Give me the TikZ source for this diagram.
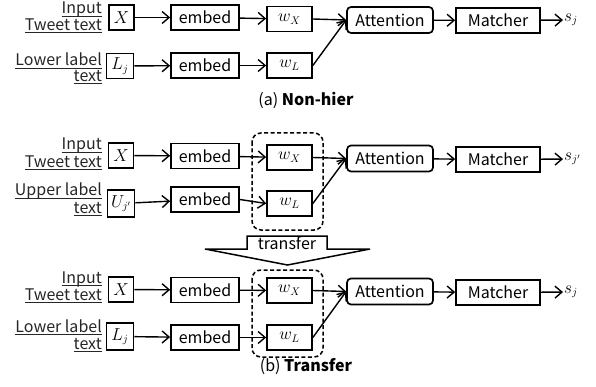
\documentclass[tikz,border=0pt]{standalone}
\usepackage{fontspec}
\setmainfont{Noto Sans CJK JP}
\usetikzlibrary{arrows.meta}
% underline drawn as a rule at a fixed distance below the baseline
\newcommand\ulin[1]{\leavevmode\setbox0\hbox{#1}\rlap{\copy0}\rule[-2.8pt]{\wd0}{0.9pt}}
\tikzset{
  blk/.style={draw, line width=1.7pt, inner sep=0pt, minimum height=25pt},
  var/.style={blk, minimum width=25pt},
  emb/.style={blk, minimum width=68pt},
  wbox/.style={blk, minimum width=45pt},
  att/.style={blk, rounded corners=4pt, minimum width=86pt, minimum height=26pt},
  mat/.style={blk, minimum width=84pt},
  lab/.style={anchor=base east, inner sep=0pt, text=black!85},
  outp/.style={anchor=west, inner sep=1pt},
  flow/.style={line width=1.4pt, -{Straight Barb[length=7pt,width=12pt,line width=1.4pt]}},
  grp/.style={draw, line width=1.5pt, rounded corners=9pt, dash pattern=on 4pt off 2.5pt},
}
\begin{document}
\begin{tikzpicture}[x=1pt, y=-1pt, font=\fontsize{16}{18}\selectfont]
\useasboundingbox (0,0) rectangle (596,387);

% ---------- (a) Non-hier ----------
\node[lab] (la1) at (102,13.8) {\ulin{Input}};
\node[lab] (la1b) at (102,30.5) {\ulin{Tweet text}};
\node[lab] (la2) at (102,66) {\ulin{Lower label}};
\node[lab] (la2b) at (102,81.5) {\ulin{text}};
\node[var] (aX) at (121.5,17.5) {$X$};
\node[emb] (ae1) at (205,17.5) {embed};
\node[wbox] (awX) at (289.5,19) {$w_X$};
\node[att] (aAtt) at (390,20) {Attention};
\node[mat] (aMat) at (498,20.5) {Matcher};
\node[outp] (aS) at (563,20) {$s_j$};
\node[var, minimum width=27pt] (aL) at (120,66) {$L_j$};
\node[emb] (ae2) at (205,65.5) {embed};
\node[wbox] (awL) at (289.5,65.5) {$w_L$};
\draw[flow] (aX) -- (ae1);
\draw[flow] (ae1) -- (awX);
\draw[flow] (awX.east) -- (aAtt.west);
\draw[flow] (awL.east) -- (aAtt.west);
\draw[flow] (aAtt) -- (aMat);
\draw[flow] (aMat) -- (aS);
\draw[flow] (aL) -- (ae2);
\draw[flow] (ae2) -- (awL);
\node (capa) at (306,100) {(a) \textbf{Non-hier}};

% ---------- (b) Transfer: upper level ----------
\node[lab] (lb1) at (102,150) {\ulin{Input}};
\node[lab] (lb1b) at (102,167.5) {\ulin{Tweet text}};
\node[lab] (lb2) at (102,196) {\ulin{Upper label}};
\node[lab] (lb2b) at (102,213.5) {\ulin{text}};
\node[var] (bX) at (121,155.5) {$X$};
\node[emb] (be1) at (205,156) {embed};
\node[wbox] (bwX) at (289.5,157.5) {$w_X$};
\node[att] (bAtt) at (390,158.5) {Attention};
\node[mat] (bMat) at (498,159.5) {Matcher};
\node[outp] (bS) at (563,159) {$s_{j'}$};
\node[var, minimum width=27pt, minimum height=27pt] (bU) at (121,203.5) {$U_{j'}$};
\node[emb] (be2) at (205,199.5) {embed};
\node[wbox] (bwL) at (289.5,203.5) {$w_L$};
\draw[flow] (bX) -- (be1);
\draw[flow] (be1) -- (bwX);
\draw[flow] (bwX.east) -- (bAtt.west);
\draw[flow] (bwL.east) -- (bAtt.west);
\draw[flow] (bAtt) -- (bMat);
\draw[flow] (bMat) -- (bS);
\draw[flow] (bU) -- (be2);
\draw[flow] (be2.east) -- (bwL.west);
\draw[grp] (252,133) rectangle (323,230);

% transfer arrow
\draw[line width=1.5pt, fill=white] (205,249) -- (247,249) -- (247,236) -- (327,236)
  -- (327,249) -- (370,249) -- (287.5,265) -- cycle;
\node (tr) at (287,243.5) {transfer};

% ---------- (b) Transfer: lower level ----------
\node[lab] (lc1) at (102,283.5) {\ulin{Input}};
\node[lab] (lc1b) at (102,300.5) {\ulin{Tweet text}};
\node[lab] (lc2) at (102,332) {\ulin{Lower label}};
\node[lab] (lc2b) at (102,349) {\ulin{text}};
\node[var] (cX) at (121,289.5) {$X$};
\node[emb] (ce1) at (205,290) {embed};
\node[wbox] (cwX) at (289.5,290.5) {$w_X$};
\node[att] (cAtt) at (390,291.5) {Attention};
\node[mat] (cMat) at (498,292.5) {Matcher};
\node[outp] (cS) at (563,292) {$s_j$};
\node[var, minimum width=27pt, minimum height=27pt] (cL) at (120,336.5) {$L_j$};
\node[emb] (ce2) at (205,337.5) {embed};
\node[wbox] (cwL) at (289.5,337.5) {$w_L$};
\draw[flow] (cX) -- (ce1);
\draw[flow] (ce1) -- (cwX);
\draw[flow] (cwX.east) -- (cAtt.west);
\draw[flow] (cwL.east) -- (cAtt.west);
\draw[flow] (cAtt) -- (cMat);
\draw[flow] (cMat) -- (cS);
\draw[flow] (cL) -- (ce2);
\draw[flow] (ce2) -- (cwL);
\draw[grp] (252,270) rectangle (323,357);
\node (capb) at (306,367) {(b) \textbf{Transfer}};
\end{tikzpicture}
\end{document}
